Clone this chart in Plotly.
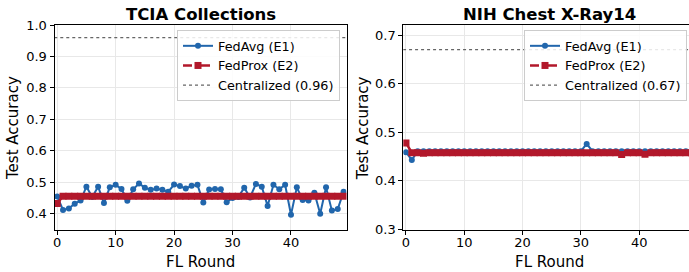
import plotly.graph_objects as go

W, H = 689, 272

rounds = list(range(50))

tcia_fedavg = [0.455, 0.412, 0.417, 0.432, 0.442, 0.486, 0.453, 0.486, 0.434, 0.484,
               0.492, 0.479, 0.441, 0.478, 0.496, 0.483, 0.476, 0.480, 0.476, 0.470,
               0.493, 0.488, 0.480, 0.489, 0.492, 0.436, 0.477, 0.479, 0.478, 0.437,
               0.450, 0.453, 0.483, 0.452, 0.495, 0.486, 0.425, 0.492, 0.478, 0.492,
               0.397, 0.484, 0.444, 0.442, 0.467, 0.400, 0.484, 0.410, 0.415, 0.470]
tcia_fedprox = [0.433, 0.456, 0.456, 0.456, 0.456, 0.456, 0.456, 0.456, 0.456, 0.456,
                0.456, 0.456, 0.456, 0.456, 0.456, 0.456, 0.456, 0.456, 0.456, 0.456,
                0.456, 0.456, 0.456, 0.456, 0.456, 0.456, 0.456, 0.456, 0.456, 0.456,
                0.456, 0.456, 0.456, 0.456, 0.456, 0.456, 0.456, 0.456, 0.456, 0.456,
                0.456, 0.456, 0.456, 0.456, 0.456, 0.456, 0.456, 0.456, 0.456, 0.456]
tcia_central = 0.96

nih_fedavg = [0.459, 0.443, 0.461, 0.461, 0.461, 0.461, 0.461, 0.461, 0.461, 0.461,
              0.461, 0.461, 0.461, 0.461, 0.461, 0.461, 0.461, 0.461, 0.461, 0.461,
              0.461, 0.461, 0.461, 0.461, 0.461, 0.461, 0.461, 0.461, 0.461, 0.461,
              0.461, 0.476, 0.461, 0.461, 0.461, 0.461, 0.461, 0.461, 0.461, 0.461,
              0.461, 0.461, 0.461, 0.461, 0.461, 0.461, 0.461, 0.461, 0.461, 0.461]
nih_fedprox = [0.478, 0.458, 0.458, 0.457, 0.458, 0.458, 0.458, 0.458, 0.458, 0.458,
               0.458, 0.458, 0.458, 0.458, 0.458, 0.458, 0.458, 0.458, 0.458, 0.458,
               0.458, 0.458, 0.458, 0.458, 0.458, 0.458, 0.458, 0.458, 0.458, 0.458,
               0.458, 0.458, 0.458, 0.458, 0.458, 0.458, 0.458, 0.454, 0.458, 0.458,
               0.458, 0.455, 0.458, 0.458, 0.458, 0.458, 0.458, 0.458, 0.458, 0.458]
nih_central = 0.67

titles = ["TCIA Collections", "NIH Chest X-Ray14"]
x_ticks = [0, 10, 20, 30, 40]
tcia_y_ticks = [0.4, 0.5, 0.6, 0.7, 0.8, 0.9, 1.0]
nih_y_ticks = [0.3, 0.4, 0.5, 0.6, 0.7]

BLUE = "#2166ac"
RED = "#b2182b"
FONT = "DejaVu Sans"

fig = go.Figure()

def add_panel(xa, ya, legend, avg, prox, central):
    cx = [rounds[0] - 0.5, rounds[-1] + 0.5]
    fig.add_trace(go.Scatter(x=cx, y=[central, central], mode="lines",
                             name=f"Centralized ({central:.2f})", legendrank=3,
                             line=dict(color="#666666", width=1.3, dash="dot"),
                             xaxis=xa, yaxis=ya, legend=legend))
    fig.add_trace(go.Scatter(x=rounds, y=avg, mode="lines+markers", name="FedAvg (E1)", legendrank=1,
                             line=dict(color=BLUE, width=2), marker=dict(symbol="circle", size=6, color=BLUE),
                             xaxis=xa, yaxis=ya, legend=legend))
    fig.add_trace(go.Scatter(x=rounds, y=prox, mode="lines+markers", name="FedProx (E2)", legendrank=2,
                             line=dict(color=RED, width=2.5, dash="dash"),
                             marker=dict(symbol="square", size=7, color=RED),
                             xaxis=xa, yaxis=ya, legend=legend))

add_panel("x", "y", "legend", tcia_fedavg, tcia_fedprox, tcia_central)
add_panel("x2", "y2", "legend2", nih_fedavg, nih_fedprox, nih_central)

y_top = 1 - 25 / H
y_bot = 1 - 229.5 / H

common_x = dict(ticks="outside", ticklen=4, tickwidth=1, tickcolor="black",
                showline=True, linecolor="black", linewidth=1,
                showgrid=True, gridcolor="#e8e8e8", gridwidth=1, zeroline=False,
                tickfont=dict(size=13, color="black", family=FONT), tickvals=x_ticks,
                ticklabelstandoff=-3, automargin=False)
common_y = dict(ticks="outside", ticklen=4, tickwidth=1, tickcolor="black",
                showline=True, linecolor="black", linewidth=1,
                showgrid=True, gridcolor="#e8e8e8", gridwidth=1, zeroline=False,
                tickfont=dict(size=13, color="black", family=FONT), tickformat=".1f",
                automargin=False)

fig.update_layout(
    width=W, height=H,
    margin=dict(l=0, r=0, t=0, b=0),
    paper_bgcolor="white", plot_bgcolor="white",
    font=dict(family=FONT, color="black"),
    xaxis=dict(domain=[54.5 / W, 346.5 / W], range=[-0.46, 49.5], mirror=True, anchor="y", **common_x),
    yaxis=dict(domain=[y_bot, y_top], range=[0.35, 1.0], tickvals=tcia_y_ticks, mirror=True, anchor="x", **common_y),
    xaxis2=dict(domain=[403.3 / W, 1.0], range=[-0.46, 48.55], mirror=True, anchor="y2", **common_x),
    yaxis2=dict(domain=[y_bot, y_top], range=[0.3, 0.7206], tickvals=nih_y_ticks, mirror=False, anchor="x2", **common_y),
    legend=dict(x=340 / W, xanchor="right", y=1 - 30 / H, yanchor="top",
                bgcolor="rgba(255,255,255,0.85)", bordercolor="#cccccc", borderwidth=1,
                font=dict(size=12.8, family=FONT), tracegroupgap=0, itemwidth=30),
    legend2=dict(x=687 / W, xanchor="right", y=1 - 30 / H, yanchor="top",
                 bgcolor="rgba(255,255,255,0.85)", bordercolor="#cccccc", borderwidth=1,
                 font=dict(size=12.8, family=FONT), tracegroupgap=0, itemwidth=30),
    showlegend=True,
)

annots = [
    dict(x=200.5 / W, y=1 - 14 / H, text=f"<b>{titles[0]}</b>", font=dict(size=16.5)),
    dict(x=549 / W, y=1 - 14 / H, text=f"<b>{titles[1]}</b>", font=dict(size=16.5)),
    dict(x=200.5 / W, y=1 - 261.5 / H, text="FL Round", font=dict(size=15)),
    dict(x=549.5 / W, y=1 - 261.5 / H, text="FL Round", font=dict(size=15)),
    dict(x=13 / W, y=1 - 128 / H, text="Test Accuracy", font=dict(size=15), textangle=-90),
    dict(x=363.3 / W, y=1 - 128 / H, text="Test Accuracy", font=dict(size=15), textangle=-90),
]
for a in annots:
    fig.add_annotation(xref="paper", yref="paper", xanchor="center", yanchor="middle",
                       showarrow=False, **a)

fig.write_html("out.html", config={"displayModeBar": False},
               post_script="document.body.style.margin='0';")
